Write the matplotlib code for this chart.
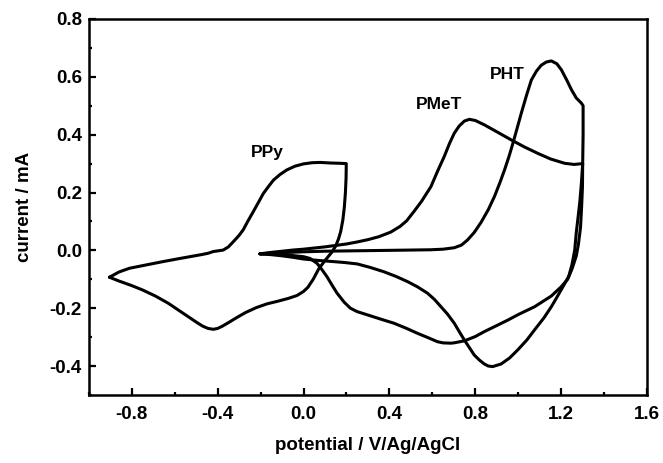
import matplotlib
matplotlib.use("Agg")
import matplotlib.pyplot as plt
from matplotlib.ticker import MultipleLocator

plt.rcParams['font.family'] = ['Liberation Sans', 'DejaVu Sans']
plt.rcParams['font.weight'] = 'bold'

# PPy loop (-0.9 .. 0.2 V)
ppy_v = [-0.904, -0.86, -0.811, -0.73, -0.655, -0.59, -0.53, -0.47, -0.444, -0.42, -0.40, -0.374,
         -0.35, -0.327, -0.30, -0.281, -0.26, -0.234, -0.21, -0.187, -0.16, -0.14, -0.11, -0.078,
         -0.04, 0.0, 0.04, 0.078, 0.125, 0.17, 0.199,
         0.198, 0.195, 0.19, 0.183, 0.173, 0.163, 0.15, 0.13, 0.10, 0.07, 0.045, 0.02, 0.0,
         -0.03, -0.07, -0.12, -0.17, -0.22, -0.27, -0.31, -0.35, -0.38, -0.40, -0.42, -0.445,
         -0.47, -0.50, -0.54, -0.58, -0.63, -0.69, -0.75, -0.80, -0.86, -0.904]
ppy_i = [-0.093, -0.075, -0.062, -0.050, -0.039, -0.030, -0.022, -0.014, -0.010, -0.004, -0.002, 0.001,
         0.012, 0.030, 0.052, 0.071, 0.100, 0.134, 0.166, 0.197, 0.224, 0.243, 0.262, 0.278,
         0.291, 0.299, 0.303, 0.304, 0.302, 0.301, 0.300,
         0.25, 0.20, 0.15, 0.105, 0.065, 0.040, 0.015, -0.008, -0.035, -0.065, -0.100, -0.128, -0.142,
         -0.156, -0.166, -0.176, -0.185, -0.198, -0.215, -0.232, -0.250, -0.263, -0.270, -0.273, -0.270,
         -0.262, -0.248, -0.228, -0.208, -0.183, -0.158, -0.137, -0.122, -0.106, -0.093]

# PMeT loop (-0.2 .. 1.3 V)
pmet_v = [-0.203, -0.15, -0.10, -0.05, 0.0, 0.05, 0.10, 0.15, 0.20, 0.25, 0.30, 0.35, 0.406, 0.45,
          0.48, 0.515, 0.55, 0.593, 0.625, 0.655, 0.68, 0.702, 0.725, 0.749, 0.772, 0.80, 0.842,
          0.90, 0.967, 1.03, 1.092, 1.15, 1.216, 1.26, 1.30,
          1.299, 1.295, 1.29, 1.28, 1.27, 1.25, 1.23, 1.20, 1.154, 1.076, 1.0, 0.952, 0.90, 0.842,
          0.80, 0.749, 0.70, 0.686, 0.65, 0.624, 0.58, 0.531, 0.48, 0.421, 0.36, 0.297, 0.25, 0.218,
          0.19, 0.156, 0.13, 0.109, 0.085, 0.063, 0.03, 0.0, -0.05, -0.10, -0.15, -0.203]
pmet_i = [-0.012, -0.007, -0.003, 0.001, 0.004, 0.008, 0.012, 0.017, 0.022, 0.029, 0.037, 0.047, 0.063, 0.083,
          0.102, 0.135, 0.170, 0.220, 0.275, 0.324, 0.370, 0.405, 0.430, 0.447, 0.453, 0.449, 0.434,
          0.410, 0.382, 0.357, 0.335, 0.316, 0.301, 0.297, 0.300,
          0.22, 0.15, 0.08, 0.02, -0.02, -0.065, -0.10, -0.126, -0.158, -0.195, -0.222, -0.241, -0.260, -0.281,
          -0.298, -0.313, -0.320, -0.321, -0.320, -0.316, -0.302, -0.287, -0.270, -0.252, -0.238, -0.223, -0.212, -0.200,
          -0.180, -0.148, -0.117, -0.091, -0.066, -0.045, -0.028, -0.022, -0.018, -0.015, -0.013, -0.012]

# PHT loop (-0.2 .. 1.3 V)
pht_v = [-0.203, -0.10, 0.0, 0.10, 0.20, 0.30, 0.40, 0.50, 0.593, 0.65, 0.702, 0.735, 0.764, 0.795,
         0.827, 0.86, 0.889, 0.915, 0.936, 0.957, 0.975, 0.995, 1.014, 1.04, 1.061, 1.085, 1.107,
         1.13, 1.154, 1.18, 1.201, 1.225, 1.248, 1.27, 1.294, 1.302,
         1.302, 1.30, 1.294, 1.287, 1.279, 1.27, 1.263, 1.25, 1.235, 1.22, 1.201, 1.17, 1.154, 1.12,
         1.076, 1.04, 0.998, 0.96, 0.920, 0.881, 0.86, 0.842, 0.82, 0.795, 0.772, 0.749, 0.725, 0.702,
         0.67, 0.640, 0.61, 0.577, 0.53, 0.484, 0.43, 0.374, 0.31, 0.25, 0.19, 0.14, 0.07, 0.0,
         -0.05, -0.10, -0.15, -0.203]
pht_i = [-0.012, -0.008, -0.005, -0.003, -0.002, -0.001, 0.000, 0.001, 0.002, 0.004, 0.009, 0.018, 0.036, 0.062,
         0.097, 0.140, 0.186, 0.235, 0.278, 0.325, 0.370, 0.423, 0.474, 0.540, 0.589, 0.620, 0.640,
         0.651, 0.655, 0.645, 0.624, 0.590, 0.555, 0.527, 0.509, 0.500,
         0.40, 0.30, 0.232, 0.17, 0.117, 0.06, 0.001, -0.05, -0.09, -0.11, -0.135, -0.175, -0.195, -0.233,
         -0.275, -0.31, -0.344, -0.372, -0.393, -0.402, -0.400, -0.393, -0.380, -0.362, -0.336, -0.310, -0.281, -0.252,
         -0.220, -0.195, -0.170, -0.148, -0.126, -0.108, -0.090, -0.074, -0.059, -0.047, -0.042, -0.039, -0.035, -0.030,
         -0.024, -0.019, -0.015, -0.012]

fig = plt.figure(figsize=(6.63, 4.63), dpi=100)
ax = fig.add_axes([0.134, 0.147, 0.842, 0.812])

for v, i in [(ppy_v, ppy_i), (pmet_v, pmet_i), (pht_v, pht_i)]:
    ax.plot(v, i, color='black', lw=2.2, solid_joinstyle='round', solid_capstyle='round')

ax.text(-0.17, 0.337, 'PPy', fontsize=12.5, fontweight='bold', ha='center', va='center')
ax.text(0.63, 0.503, 'PMeT', fontsize=12.5, fontweight='bold', ha='center', va='center')
ax.text(0.95, 0.607, 'PHT', fontsize=12.5, fontweight='bold', ha='center', va='center')

ax.set_xlim(-1.0, 1.6)
ax.set_ylim(-0.5, 0.8)
ax.xaxis.set_minor_locator(MultipleLocator(0.2))
ax.yaxis.set_minor_locator(MultipleLocator(0.1))
ax.set_xticks([-0.8, -0.4, 0.0, 0.4, 0.8, 1.2, 1.6])
ax.set_xticklabels(['-0.8', '-0.4', '0.0', '0.4', '0.8', '1.2', '1.6'])
ax.set_yticks([-0.4, -0.2, 0.0, 0.2, 0.4, 0.6, 0.8])
ax.set_yticklabels(['-0.4', '-0.2', '0.0', '0.2', '0.4', '0.6', '0.8'])

ax.tick_params(which='both', direction='in', top=False, right=False, width=1.6)
ax.tick_params(which='major', length=5)
ax.tick_params(which='minor', length=2.5)
ax.tick_params(axis='x', which='major', pad=8, labelsize=13.5)
ax.tick_params(axis='y', which='major', pad=5, labelsize=13.5)
for s in ax.spines.values():
    s.set_linewidth(1.8)

ax.set_xlabel('potential / V/Ag/AgCl', fontsize=13.5, fontweight='bold', labelpad=10)
ax.set_ylabel('current / mA', fontsize=13.5, fontweight='bold', labelpad=12)

fig.savefig('out.png', dpi=100)
